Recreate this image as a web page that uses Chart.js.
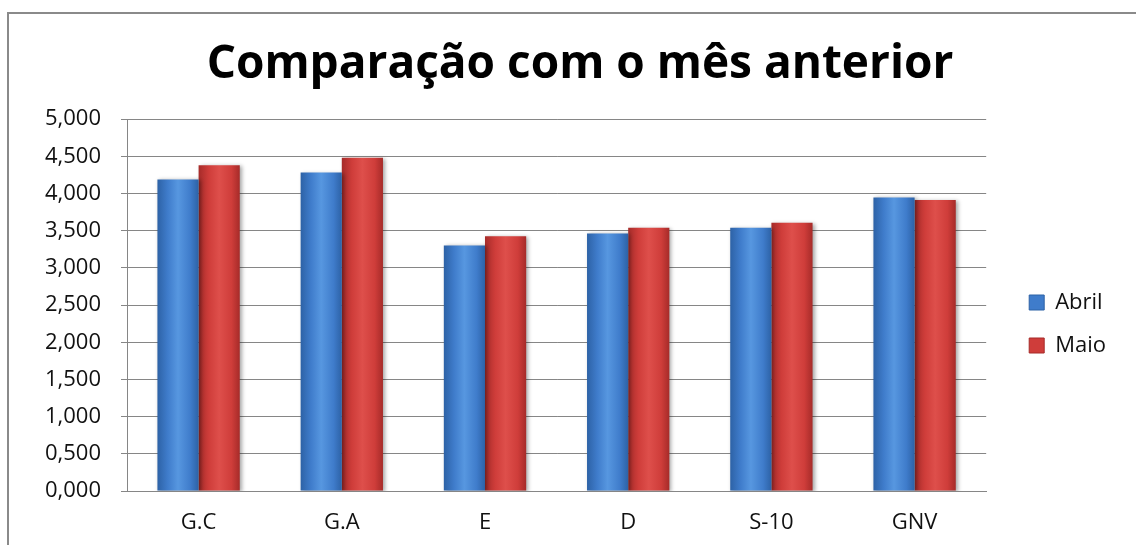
<!DOCTYPE html>
<html>
<head>
<meta charset="utf-8">
<script src="https://cdn.jsdelivr.net/npm/chart.js@4"></script>
<style>
  html, body { margin: 0; padding: 0; background: #fff; overflow: hidden; }
  .frame {
    position: absolute; left: 7px; top: 12px; width: 1140px; height: 540px;
    border-left: 2px solid #8a8a8a; border-top: 2px solid #8a8a8a;
  }
  .wrap { position: absolute; left: 0; top: 0; width: 1136px; height: 545px; }
</style>
</head>
<body>
<div class="frame"></div>
<div class="wrap"><canvas id="chart"></canvas></div>
<script>
const categories = ['G.C', 'G.A', 'E', 'D', 'S-10', 'GNV'];
const abril = [4190, 4283, 3302, 3464, 3539, 3948];
const maio  = [4382, 4480, 3427, 3539, 3606, 3915];
const yTicks = [0, 500, 1000, 1500, 2000, 2500, 3000, 3500, 4000, 4500, 5000];

const FONT = "'Open Sans', 'Liberation Sans', sans-serif";
const CAT_PCT = 0.575;

const BLUE = { edge: '#2d62a6', mid: '#5797e0', base: '#3f7ccb' };
const RED  = { edge: '#a62b29', mid: '#de4f4b', base: '#cf3d3a' };

function barFill(pal) {
  return (c) => {
    const chart = c.chart;
    const xs = chart.scales.x;
    if (!xs || c.dataIndex === undefined) return pal.base;
    const cat = xs.width / categories.length;
    const group = cat * CAT_PCT;
    const bw = group / 2;
    const left = xs.getPixelForValue(c.dataIndex) - group / 2 + c.datasetIndex * bw;
    const g = chart.ctx.createLinearGradient(left, 0, left + bw, 0);
    g.addColorStop(0, pal.edge);
    g.addColorStop(0.25, pal.base);
    g.addColorStop(0.5, pal.mid);
    g.addColorStop(0.8, pal.base);
    g.addColorStop(1, pal.edge);
    return g;
  };
}

const shadow = {
  id: 'shadow',
  beforeDatasetsDraw(chart) {
    const ctx = chart.ctx;
    ctx.save();
    ctx.shadowColor = 'rgba(0,0,0,0.35)';
    ctx.shadowBlur = 4;
    ctx.shadowOffsetX = 2;
    ctx.shadowOffsetY = 1;
  },
  afterDatasetsDraw(chart) { chart.ctx.restore(); },
};

// nudge title to the page centre and the legend down/right, as in the original
const nudge = {
  id: 'nudge',
  afterLayout(chart) {
    const t = chart.titleBlock;
    if (t) {
      const dx = 580 - (t.left + t.right) / 2;
      t.left += dx;
      t.right += dx;
    }
    const l = chart.legend;
    if (l) {
      l.top += 33;
      l.bottom += 33;
      l.left += 22;
      l.right += 22;
    }
  },
};

new Chart(document.getElementById('chart'), {
  type: 'bar',
  data: {
    labels: categories,
    datasets: [
      { label: 'Abril', data: abril, backgroundColor: barFill(BLUE), borderWidth: 0 },
      { label: 'Maio',  data: maio,  backgroundColor: barFill(RED),  borderWidth: 0 },
    ],
  },
  plugins: [shadow, nudge],
  options: {
    responsive: true,
    maintainAspectRatio: false,
    animation: false,
    layout: { padding: { top: 37, right: 42, left: 0, bottom: 0 } },
    datasets: { bar: { categoryPercentage: CAT_PCT, barPercentage: 1 } },
    plugins: {
      title: {
        display: true,
        text: 'Comparação com o mês anterior',
        color: '#000',
        font: { family: FONT, size: 46, weight: 'bold' },
        padding: { top: 0, bottom: 27 },
      },
      legend: {
        position: 'right',
        labels: {
          color: '#111',
          font: { family: FONT, size: 22 },
          boxWidth: 15,
          boxHeight: 15,
          padding: 21,
          generateLabels: (chart) => chart.data.datasets.map((ds, i) => ({
            text: ds.label,
            fillStyle: i === 0 ? BLUE.base : RED.base,
            strokeStyle: i === 0 ? BLUE.edge : RED.edge,
            lineWidth: 1,
            fontColor: '#111',
            datasetIndex: i,
          })),
        },
      },
      tooltip: { enabled: false },
    },
    scales: {
      x: {
        grid: { display: false },
        border: { color: '#868686', width: 1 },
        ticks: { color: '#111', font: { family: FONT, size: 22 }, padding: 11 },
        afterFit: (s) => { s.height = 54; },
      },
      y: {
        min: 0,
        max: 5000,
        afterBuildTicks: (s) => { s.ticks = yTicks.map((v) => ({ value: v })); },
        ticks: {
          color: '#111',
          font: { family: FONT, size: 22 },
          padding: 20,
          callback: (v) => (v / 1000).toFixed(3).replace('.', ','),
        },
        grid: { color: '#868686', tickLength: 6 },
        border: { color: '#868686' },
        afterFit: (s) => { s.width = 127; },
      },
    },
  },
});
</script>
</body>
</html>
